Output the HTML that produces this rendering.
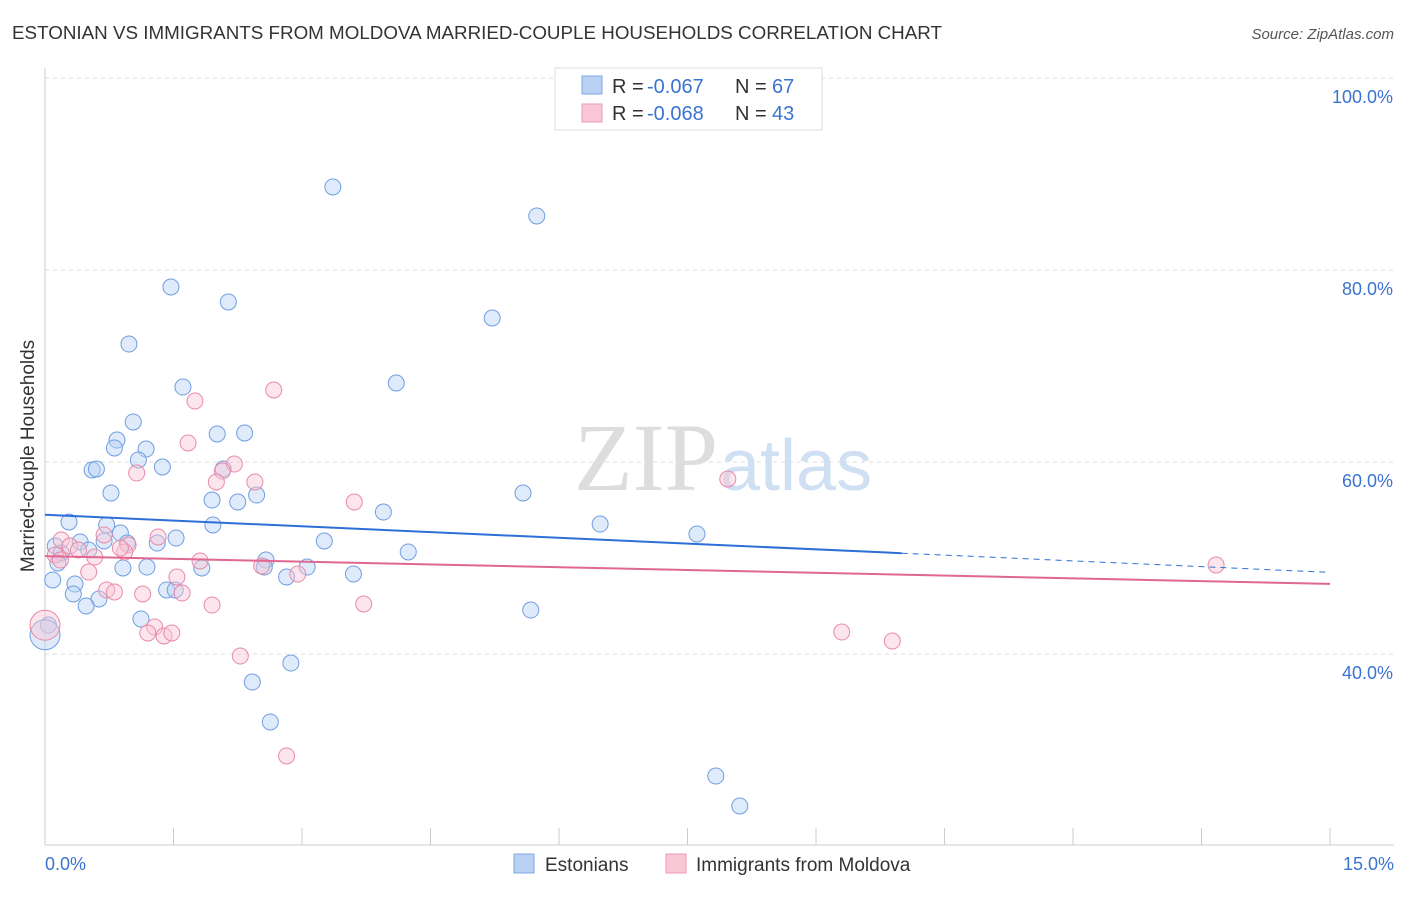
<!DOCTYPE html>
<html><head><meta charset="utf-8"><style>
body{margin:0;background:#fff;font-family:"Liberation Sans",sans-serif}
</style></head><body>
<svg width="1406" height="892" xmlns="http://www.w3.org/2000/svg">
<text x="12" y="39" font-size="18" fill="#333" textLength="930" lengthAdjust="spacingAndGlyphs">ESTONIAN VS IMMIGRANTS FROM MOLDOVA MARRIED-COUPLE HOUSEHOLDS CORRELATION CHART</text>
<text x="1394" y="39" font-size="15" fill="#555" text-anchor="end" font-style="italic">Source: ZipAtlas.com</text>
<g id="grid"></g>
<text x="718" y="490" font-size="96" fill="#ddd" text-anchor="end" font-family="Liberation Serif">ZIP</text>
<text x="720" y="490" font-size="72" fill="#cfe0f3">atlas</text>
<g id="pts"></g>
<g id="trends"></g>
<text x="34" y="456" font-size="19" fill="#333" text-anchor="middle" transform="rotate(-90 34 456)">Married-couple Households</text>
<text x="45" y="870" font-size="18" fill="#3b73d1">0.0%</text>
<text x="1394" y="870" font-size="18" fill="#3b73d1" text-anchor="end">15.0%</text>
<g>
<rect x="555" y="68" width="267" height="62" fill="#fff" stroke="#ddd"/>
<rect x="582" y="76" width="20" height="18" fill="#b9d2f3" stroke="#7fa7e0"/>
<rect x="582" y="104" width="20" height="18" fill="#f9c6d5" stroke="#eb9ab2"/>
<text x="612" y="93" font-size="20" fill="#333">R =</text>
<text x="647" y="93" font-size="20" fill="#3b73d1">-0.067</text>
<text x="735" y="93" font-size="20" fill="#333">N =</text>
<text x="772" y="93" font-size="20" fill="#3b73d1">67</text>
<text x="612" y="120" font-size="20" fill="#333">R =</text>
<text x="647" y="120" font-size="20" fill="#3b73d1">-0.068</text>
<text x="735" y="120" font-size="20" fill="#333">N =</text>
<text x="772" y="120" font-size="20" fill="#3b73d1">43</text>
</g>
<g>
<rect x="514" y="854" width="20" height="19" fill="#b9d2f3" stroke="#7fa7e0"/>
<text x="545" y="871" font-size="19" fill="#333">Estonians</text>
<rect x="666" y="854" width="20" height="19" fill="#f9c6d5" stroke="#eb9ab2"/>
<text x="696" y="871" font-size="19" fill="#333">Immigrants from Moldova</text>
</g>
</svg>
<script>
const yTicks=[40,60,80,100];
const xTickCount=10;
const bluePx=[[333,187],[537,216],[171,287],[228,302],[492,318],[129,344],[396,383],[183,387],[133,422],[117,440],[217,434],[245,433],[114,448],[146,449],[138,460],[162,467],[92,470],[96,469],[223,469],[111,493],[212,500],[238,502],[257,495],[523,493],[69,522],[107,525],[213,525],[383,512],[600,524],[697,534],[120,533],[104,541],[127,543],[176,538],[157,543],[80,542],[324,541],[55,546],[61,553],[89,550],[408,552],[266,560],[264,567],[123,568],[147,567],[202,568],[307,567],[287,577],[353,574],[53,580],[58,563],[75,584],[73,594],[167,590],[175,590],[99,599],[86,606],[531,610],[141,619],[291,663],[252,682],[270,722],[716,776],[740,806],[48,625]];
const pinkPx=[[274,390],[195,401],[188,443],[234,464],[222,471],[137,473],[216,482],[255,482],[728,479],[354,502],[61,540],[70,546],[104,535],[158,537],[128,545],[78,550],[95,557],[125,552],[120,548],[55,555],[89,572],[200,561],[262,566],[298,574],[177,577],[107,590],[114,592],[143,594],[182,593],[212,605],[364,604],[155,627],[148,633],[164,636],[172,633],[240,656],[842,632],[892,641],[1216,565],[287,756],[60,560]];
const blueX=bluePx.map(p=>+((p[0]-45)/85.67).toFixed(2)), blueY=bluePx.map(p=>+(100-(p[1]-78)/9.6).toFixed(2));
const pinkX=pinkPx.map(p=>+((p[0]-45)/85.67).toFixed(2)), pinkY=pinkPx.map(p=>+(100-(p[1]-78)/9.6).toFixed(2));
const bigBlue=[0,42], bigPink=[0,43];
const blueTrend=[[0,54.5],[10,50.5],[15,48.5]];
const pinkTrend=[[0,50.2],[15,47.3]];
const X=v=>45+v*85.67, Y=v=>78+(100-v)*9.6;
const NS="http://www.w3.org/2000/svg";
function mk(t,a,p){const e=document.createElementNS(NS,t);for(const k in a)e.setAttribute(k,a[k]);p.appendChild(e);return e;}
const g=document.getElementById('grid');
yTicks.forEach(v=>{const l=mk('line',{x1:45,x2:1394,y1:Y(v),y2:Y(v),stroke:'#ddd','stroke-dasharray':'4 4'},g);


const t=mk('text',{x:1393,y:Y(v)+25,'font-size':18,fill:'#3b73d1','text-anchor':'end'},g);t.textContent=v.toFixed(1)+'%';

});
mk('line',{x1:45,x2:45,y1:68,y2:845,stroke:'#ccc'},g);
mk('line',{x1:45,x2:1394,y1:845,y2:845,stroke:'#ccc'},g);
for(let i=0;i<=xTickCount;i++){const l=mk('line',{x1:X(i*1.5),x2:X(i*1.5),y1:828,y2:845,stroke:'#ccc'},g);

}
const P=document.getElementById('pts');
function dot(x,y,r,f,s,n){const c=mk('circle',{cx:X(x),cy:Y(y),r:r,fill:f,'fill-opacity':0.45,stroke:s,'stroke-width':1},P);

}
blueX.forEach((x,i)=>dot(x,blueY[i],8,'#b9d2f3','#6f9ee0','estonian-point'));
pinkX.forEach((x,i)=>dot(x,pinkY[i],8,'#f9c6d5','#e88aa8','moldova-point'));
dot(bigBlue[0],bigBlue[1],15,'#b9d2f3','#6f9ee0','estonian-point');
dot(bigPink[0],bigPink[1],15,'#f9c6d5','#e88aa8','moldova-point');
const T=document.getElementById('trends');
let l=mk('line',{x1:X(blueTrend[0][0]),y1:Y(blueTrend[0][1]),x2:X(blueTrend[1][0]),y2:Y(blueTrend[1][1]),stroke:'#2d6fd6','stroke-width':2},T);


l=mk('line',{x1:X(blueTrend[1][0]),y1:Y(blueTrend[1][1]),x2:X(blueTrend[2][0]),y2:Y(blueTrend[2][1]),stroke:'#2d6fd6','stroke-width':1,'stroke-dasharray':'6 5'},T);


l=mk('line',{x1:X(pinkTrend[0][0]),y1:Y(pinkTrend[0][1]),x2:X(pinkTrend[1][0]),y2:Y(pinkTrend[1][1]),stroke:'#e0678f','stroke-width':2},T);


</script>
</body></html>
